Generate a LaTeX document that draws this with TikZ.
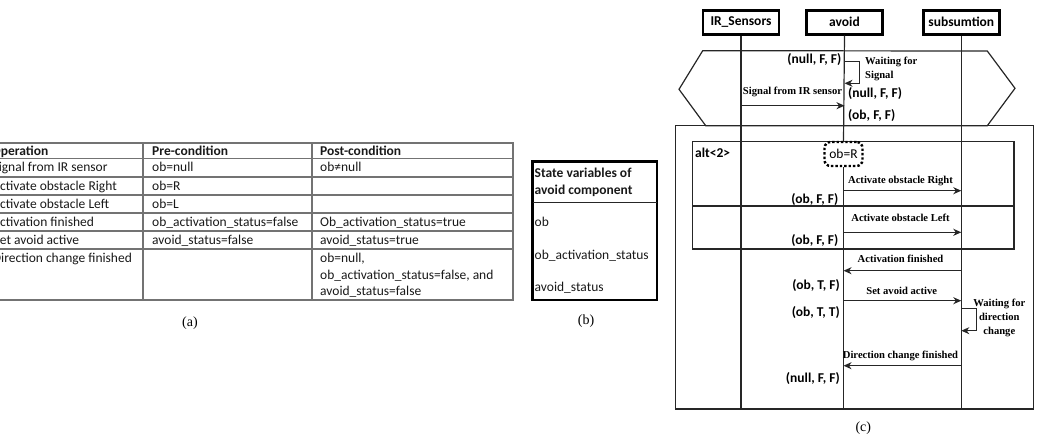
\documentclass[tikz,border=0pt]{standalone}
\usepackage{fontspec}
\setmainfont{Liberation Serif}
\newfontfamily\carl{Carlito}
\usetikzlibrary{arrows.meta}
\tikzset{
  tline/.style={draw=black!55, line width=1.3pt},
  ttext/.style={anchor=base west, inner sep=0pt, font=\carl\fontsize{13.5}{16}\selectfont, text=black!90},
  thead/.style={ttext, font=\carl\bfseries\fontsize{13.5}{16}\selectfont},
  subcap/.style={inner sep=0pt, font=\fontsize{14}{16}\selectfont},
  cline/.style={draw=black!85, line width=1.2pt},
  hdr/.style={draw=black, line width=2.6pt, inner sep=0pt, minimum width=76pt, minimum height=24pt, font=\carl\bfseries\fontsize{13.5}{16}\selectfont},
  st/.style={inner sep=0pt, font=\carl\bfseries\fontsize{13.5}{16}\selectfont},
  msg/.style={inner sep=0pt, font=\bfseries\fontsize{10.6}{12}\selectfont},
  arr/.style={cline, -{Stealth[length=8pt,width=7pt,inset=2.5pt]}},
}
\begin{document}
\begin{tikzpicture}[x=1pt,y=-1pt]
\useasboundingbox (0,0) rectangle (1038,434);
\clip (0,0) rectangle (1038,434);
% ---------------- (a) table
\draw[tline] (-20,143) -- (513,143) -- (513,300) -- (-20,300);
\foreach \yy in {158.5,177,195,213,231,249} \draw[tline] (-20,\yy) -- (513,\yy);
\draw[tline] (143,143) -- (143,300);
\draw[tline] (312,143) -- (312,300);
\node[thead] (h1) at (-8.5,155) {Operation};
\node[thead] (h2) at (152,155) {Pre-condition};
\node[thead] (h3) at (320,155) {Post-condition};
\node[ttext] (r1a) at (-7.6,171.5) {Signal from IR sensor};
\node[ttext] (r1b) at (152,171.5) {ob=null};
\node[ttext] (r1c) at (320,171.5) {ob≠null};
\node[ttext] (r2a) at (-7.8,190) {Activate obstacle Right};
\node[ttext] (r2b) at (152,190) {ob=R};
\node[ttext] (r3a) at (-7.8,208) {Activate obstacle Left};
\node[ttext] (r3b) at (152,208) {ob=L};
\node[ttext] (r4a) at (-7.8,226) {Activation finished};
\node[ttext] (r4b) at (152,226) {ob\_activation\_status=false};
\node[ttext] (r4c) at (320,226) {Ob\_activation\_status=true};
\node[ttext] (r5a) at (-6.5,244) {Set avoid active};
\node[ttext] (r5b) at (152,244) {avoid\_status=false};
\node[ttext] (r5c) at (320,244) {avoid\_status=true};
\node[ttext] (r6a) at (-7.3,262.5) {Direction change finished};
\node[ttext] (r6c1) at (320,262.5) {ob=null,};
\node[ttext] (r6c2) at (320,279) {ob\_activation\_status=false, and};
\node[ttext] (r6c3) at (320,295) {avoid\_status=false};
\node[subcap] (capa) at (190,323) {(a)};
% ---------------- (b) box
\draw[draw=black, line width=2.6pt] (532.7,161.7) rectangle (657,300);
\draw[draw=black!85, line width=1pt] (532.7,202) -- (657,202);
\node[thead] (b1) at (534.5,177) {State variables of};
\node[thead] (b2) at (534.5,194.5) {avoid component};
\node[ttext] (b3) at (534.5,226) {ob};
\node[ttext] (b4) at (534.5,259) {ob\_activation\_status};
\node[ttext] (b5) at (534.5,291) {avoid\_status};
\node[subcap] (capb) at (586,321) {(b)};
% ---------------- (c) sequence diagram
\draw[cline] (702.7,50.7) -- (987.3,51) -- (1015,88.3) -- (987.3,125.7) -- (705.7,125.7) -- (679,89.3) -- cycle;
\draw[cline] (675.7,125.7) rectangle (1033.3,409);
\draw[cline] (692.3,141.5) rectangle (1014,249);
\draw[cline] (692.3,206) -- (1014,206);
\node[st, anchor=base west] (alt) at (695,157) {alt<2>};
% headers
\node[hdr, fill=white] (irs) at (741,22.2) {IR\_Sensors};
\node[hdr, fill=white] (avd) at (844.5,22.2) {avoid};
\node[hdr, fill=white] (sub) at (961.3,22.2) {subsumtion};
% guard
\node[draw=black, line width=2.4pt, dotted, rounded corners=6pt, inner sep=0pt, minimum width=38pt, minimum height=24pt, font=\carl\fontsize{13.5}{16}\selectfont] (grd) at (843.5,154) {ob=R};
% lifeline ends
\coordinate (irsE) at (741,409);
\coordinate (avdE) at (843.5,409);
\coordinate (subE) at (961.3,409);
\draw[cline] (irs.south) -- (irsE);
\draw[cline] (sub.south) -- (subE);
\draw[cline] (avd.south) -- (grd.north);
\draw[cline] (grd.south) -- (avdE);
% top self loop
\coordinate (l1a) at (844.5,61.7);
\coordinate (l1b) at (844.5,83.3);
\draw[arr] (l1a) -- ++(15,0) |- (l1b);
\node[msg, anchor=base west] (w1) at (865,64.5) {Waiting for};
\node[msg, anchor=base west] (w2) at (865,78.3) {Signal};
\node[st, anchor=base east] (s1) at (841.5,63.5) {(null, F, F)};
% signal message
\coordinate (m1s) at (741,105.7);
\coordinate (m1e) at (844.5,105.7);
\draw[arr] (m1s) -- (m1e);
\node[msg, anchor=base] (m1) at (792.5,94.2) {Signal from IR sensor};
\node[st, anchor=base west] (s2) at (848,97) {(null, F, F)};
\node[st, anchor=base west] (s3) at (848,119) {(ob, F, F)};
% activate right
\coordinate (m2s) at (843.5,190.7);
\coordinate (m2e) at (961.3,190.7);
\draw[arr] (m2s) -- (m2e);
\node[msg, anchor=base] (m2) at (900.5,183.5) {Activate obstacle Right};
\node[st, anchor=base east] (s4) at (838.5,203) {(ob, F, F)};
% activate left
\coordinate (m3s) at (843.5,232.3);
\coordinate (m3e) at (961.3,232.3);
\draw[arr] (m3s) -- (m3e);
\node[msg, anchor=base] (m3) at (900.5,221) {Activate obstacle Left};
\node[st, anchor=base east] (s5) at (838.5,244) {(ob, F, F)};
% activation finished
\coordinate (m4s) at (961.3,270.7);
\coordinate (m4e) at (843.5,270.7);
\draw[arr] (m4s) -- (m4e);
\node[msg, anchor=base] (m4) at (900.5,262) {Activation finished};
\node[st, anchor=base east] (s6) at (840,289) {(ob, T, F)};
% set avoid active
\coordinate (m5s) at (843.5,300.7);
\coordinate (m5e) at (961.3,300.7);
\draw[arr] (m5s) -- (m5e);
\node[msg, anchor=base] (m5) at (901.7,294.5) {Set avoid active};
\node[st, anchor=base east] (s7) at (840,316.7) {(ob, T, T)};
% bottom self loop
\coordinate (l2a) at (961.3,308.3);
\coordinate (l2b) at (961.3,330.7);
\draw[arr] (l2a) -- ++(15,0) |- (l2b);
\node[msg, anchor=base] (w3) at (999.3,306.8) {Waiting for};
\node[msg, anchor=base] (w4) at (999.3,320.8) {direction};
\node[msg, anchor=base] (w5) at (999.3,334.5) {change};
% direction change finished
\coordinate (m6s) at (961.3,365.7);
\coordinate (m6e) at (843.5,365.7);
\draw[arr] (m6s) -- (m6e);
\node[msg, anchor=base] (m6) at (900.5,358.5) {Direction change finished};
\node[st, anchor=base east] (s8) at (840,382.3) {(null, F, F)};
\node[subcap] (capc) at (863.3,428.3) {(c)};
\end{tikzpicture}
\end{document}
